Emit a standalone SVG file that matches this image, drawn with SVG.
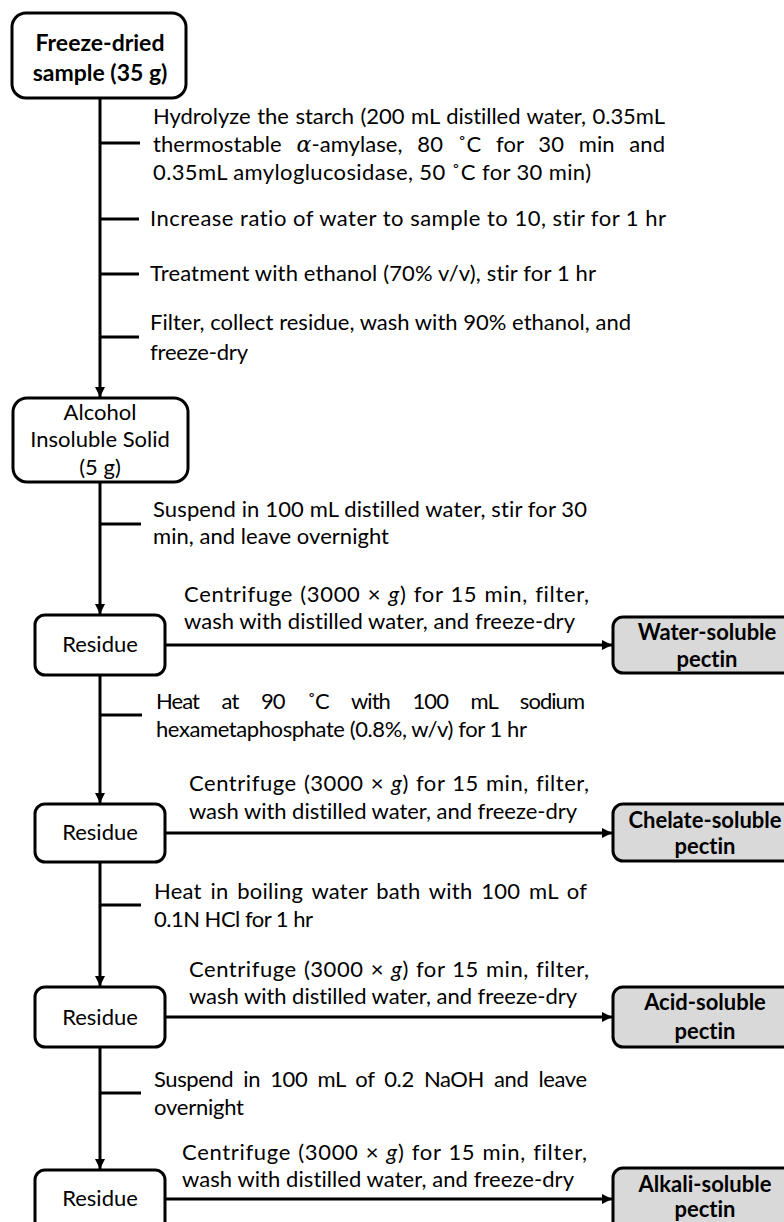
<svg xmlns="http://www.w3.org/2000/svg" width="784" height="1222" viewBox="0 0 784 1222">
<style>
.box{fill:#fff;stroke:#000;stroke-width:3}
.pec{fill:#d9d9d9;stroke:#000;stroke-width:3}
.ln{stroke:#000;stroke-width:3;fill:none}
.t{font-family:Lato,"Open Sans",sans-serif;font-size:22px;fill:#000;font-variant-ligatures:none}
.c{text-anchor:middle}
.b{font-weight:bold;font-size:22px}
.big{font-size:23px}
</style>
<defs>
<marker id="ah" markerUnits="userSpaceOnUse" markerWidth="12" markerHeight="10" refX="10" refY="5" orient="auto">
<path d="M0,0 L10,5 L0,10 Z" fill="#000"/>
</marker>
</defs>
<g id="connectors">
<line class="ln" x1="100" y1="98" x2="100" y2="397" marker-end="url(#ah)"/>
<line class="ln" x1="100" y1="482" x2="100" y2="614" marker-end="url(#ah)"/>
<line class="ln" x1="100" y1="675" x2="100" y2="803" marker-end="url(#ah)"/>
<line class="ln" x1="100" y1="862" x2="100" y2="986" marker-end="url(#ah)"/>
<line class="ln" x1="100" y1="1047" x2="100" y2="1169" marker-end="url(#ah)"/>
<line class="ln" x1="100" y1="143" x2="140" y2="143"/>
<line class="ln" x1="100" y1="219" x2="139" y2="219"/>
<line class="ln" x1="100" y1="274" x2="139" y2="274"/>
<line class="ln" x1="100" y1="337" x2="139" y2="337"/>
<line class="ln" x1="100" y1="524" x2="141" y2="524"/>
<line class="ln" x1="100" y1="715" x2="142" y2="715"/>
<line class="ln" x1="100" y1="905" x2="141" y2="905"/>
<line class="ln" x1="100" y1="1093" x2="141" y2="1093"/>
<line class="ln" x1="166" y1="645" x2="612" y2="645" marker-end="url(#ah)"/>
<line class="ln" x1="166" y1="833" x2="612" y2="833" marker-end="url(#ah)"/>
<line class="ln" x1="166" y1="1017" x2="612" y2="1017" marker-end="url(#ah)"/>
<line class="ln" x1="166" y1="1199" x2="612" y2="1199" marker-end="url(#ah)"/>
</g>
<g id="steps">
<text class="t" x="153" y="124" word-spacing="1" textLength="512" lengthAdjust="spacing">Hydrolyze the starch (200 mL distilled water,  0.35mL</text>
<text class="t" x="153" y="152" word-spacing="9" textLength="512" lengthAdjust="spacing">thermostable <tspan font-style="italic" font-family="'DejaVu Serif',serif">α</tspan>-amylase, 80 ˚C for 30 min and</text>
<text class="t" x="153" y="180" textLength="438" lengthAdjust="spacing">0.35mL amyloglucosidase, 50 ˚C for 30 min)</text>
<text class="t" x="150" y="226" textLength="516" lengthAdjust="spacing">Increase ratio of water to sample to 10, stir for 1 hr</text>
<text class="t" x="150" y="281" textLength="446" lengthAdjust="spacing">Treatment with ethanol (70% v/v), stir for 1 hr</text>
<text class="t" x="150" y="330" textLength="481" lengthAdjust="spacing">Filter, collect residue, wash with 90% ethanol, and</text>
<text class="t" x="150" y="360" textLength="98" lengthAdjust="spacing">freeze-dry</text>
<text class="t" x="153" y="517" textLength="434" lengthAdjust="spacing">Suspend in 100 mL distilled water, stir for 30</text>
<text class="t" x="153" y="544" textLength="236" lengthAdjust="spacing">min, and leave overnight</text>
<text class="t" x="184" y="602" word-spacing="1" textLength="405" lengthAdjust="spacing">Centrifuge  (3000 × <tspan font-style="italic">g</tspan>) for 15 min, filter,</text>
<text class="t" x="184" y="629" textLength="391" lengthAdjust="spacing">wash with distilled water,  and freeze-dry</text>
<text class="t" x="156" y="709" word-spacing="18" textLength="429" lengthAdjust="spacing">Heat at 90 ˚C with 100 mL sodium</text>
<text class="t" x="156" y="737" textLength="371" lengthAdjust="spacing">hexametaphosphate (0.8%, w/v) for 1 hr</text>
<text class="t" x="189" y="791" word-spacing="1" textLength="400" lengthAdjust="spacing">Centrifuge  (3000 × <tspan font-style="italic">g</tspan>) for 15 min, filter,</text>
<text class="t" x="189" y="819" textLength="388" lengthAdjust="spacing">wash with distilled water,  and freeze-dry</text>
<text class="t" x="154" y="899" word-spacing="3" textLength="433" lengthAdjust="spacing">Heat in boiling water bath with 100 mL of</text>
<text class="t" x="154" y="927" textLength="159" lengthAdjust="spacing">0.1N HCl for 1 hr</text>
<text class="t" x="189" y="977" word-spacing="1" textLength="400" lengthAdjust="spacing">Centrifuge  (3000 × <tspan font-style="italic">g</tspan>) for 15 min, filter,</text>
<text class="t" x="189" y="1004" textLength="388" lengthAdjust="spacing">wash with distilled water,  and freeze-dry</text>
<text class="t" x="154" y="1087" word-spacing="5" textLength="433" lengthAdjust="spacing">Suspend in 100 mL of 0.2 NaOH and leave</text>
<text class="t" x="154" y="1115" textLength="90" lengthAdjust="spacing">overnight</text>
<text class="t" x="182" y="1160" word-spacing="1" textLength="405" lengthAdjust="spacing">Centrifuge  (3000 × <tspan font-style="italic">g</tspan>) for 15 min, filter,</text>
<text class="t" x="182" y="1187" textLength="392" lengthAdjust="spacing">wash with distilled water,  and freeze-dry</text>
</g>
<g id="sample">
<rect class="box" x="12" y="13" width="174" height="85" rx="14"/>
<text class="t c b big" x="100" y="51">Freeze-dried</text>
<text class="t c b big" x="100" y="81">sample (35 g)</text>
</g>
<g id="ais">
<rect class="box" x="13" y="398" width="175" height="84" rx="14"/>
<text class="t c" x="100" y="420">Alcohol</text>
<text class="t c" x="100" y="447">Insoluble Solid</text>
<text class="t c" x="100" y="475">(5 g)</text>
</g>
<g id="residue1">
<rect class="box" x="35" y="615" width="130" height="60" rx="10"/>
<text class="t c" x="100" y="652">Residue</text>
</g>
<g id="residue2">
<rect class="box" x="35" y="804" width="130" height="58" rx="10"/>
<text class="t c" x="100" y="840">Residue</text>
</g>
<g id="residue3">
<rect class="box" x="35" y="987" width="130" height="60" rx="10"/>
<text class="t c" x="100" y="1025">Residue</text>
</g>
<g id="residue4">
<rect class="box" x="35" y="1170" width="130" height="70" rx="10"/>
<text class="t c" x="100" y="1206">Residue</text>
</g>
<g id="water">
<rect class="pec" x="613" y="617" width="190" height="56" rx="10"/>
<text class="t c b" x="707" y="640">Water-soluble</text>
<text class="t c b" x="707" y="667">pectin</text>
</g>
<g id="chelate">
<rect class="pec" x="613" y="804" width="190" height="57" rx="10"/>
<text class="t c b" x="705" y="828">Chelate-soluble</text>
<text class="t c b" x="705" y="854">pectin</text>
</g>
<g id="acid">
<rect class="pec" x="613" y="987" width="190" height="60" rx="10"/>
<text class="t c b" x="705" y="1010">Acid-soluble</text>
<text class="t c b" x="705" y="1039">pectin</text>
</g>
<g id="alkali">
<rect class="pec" x="613" y="1168" width="190" height="70" rx="10"/>
<text class="t c b" x="705" y="1192">Alkali-soluble</text>
<text class="t c b" x="705" y="1217">pectin</text>
</g>
</svg>
